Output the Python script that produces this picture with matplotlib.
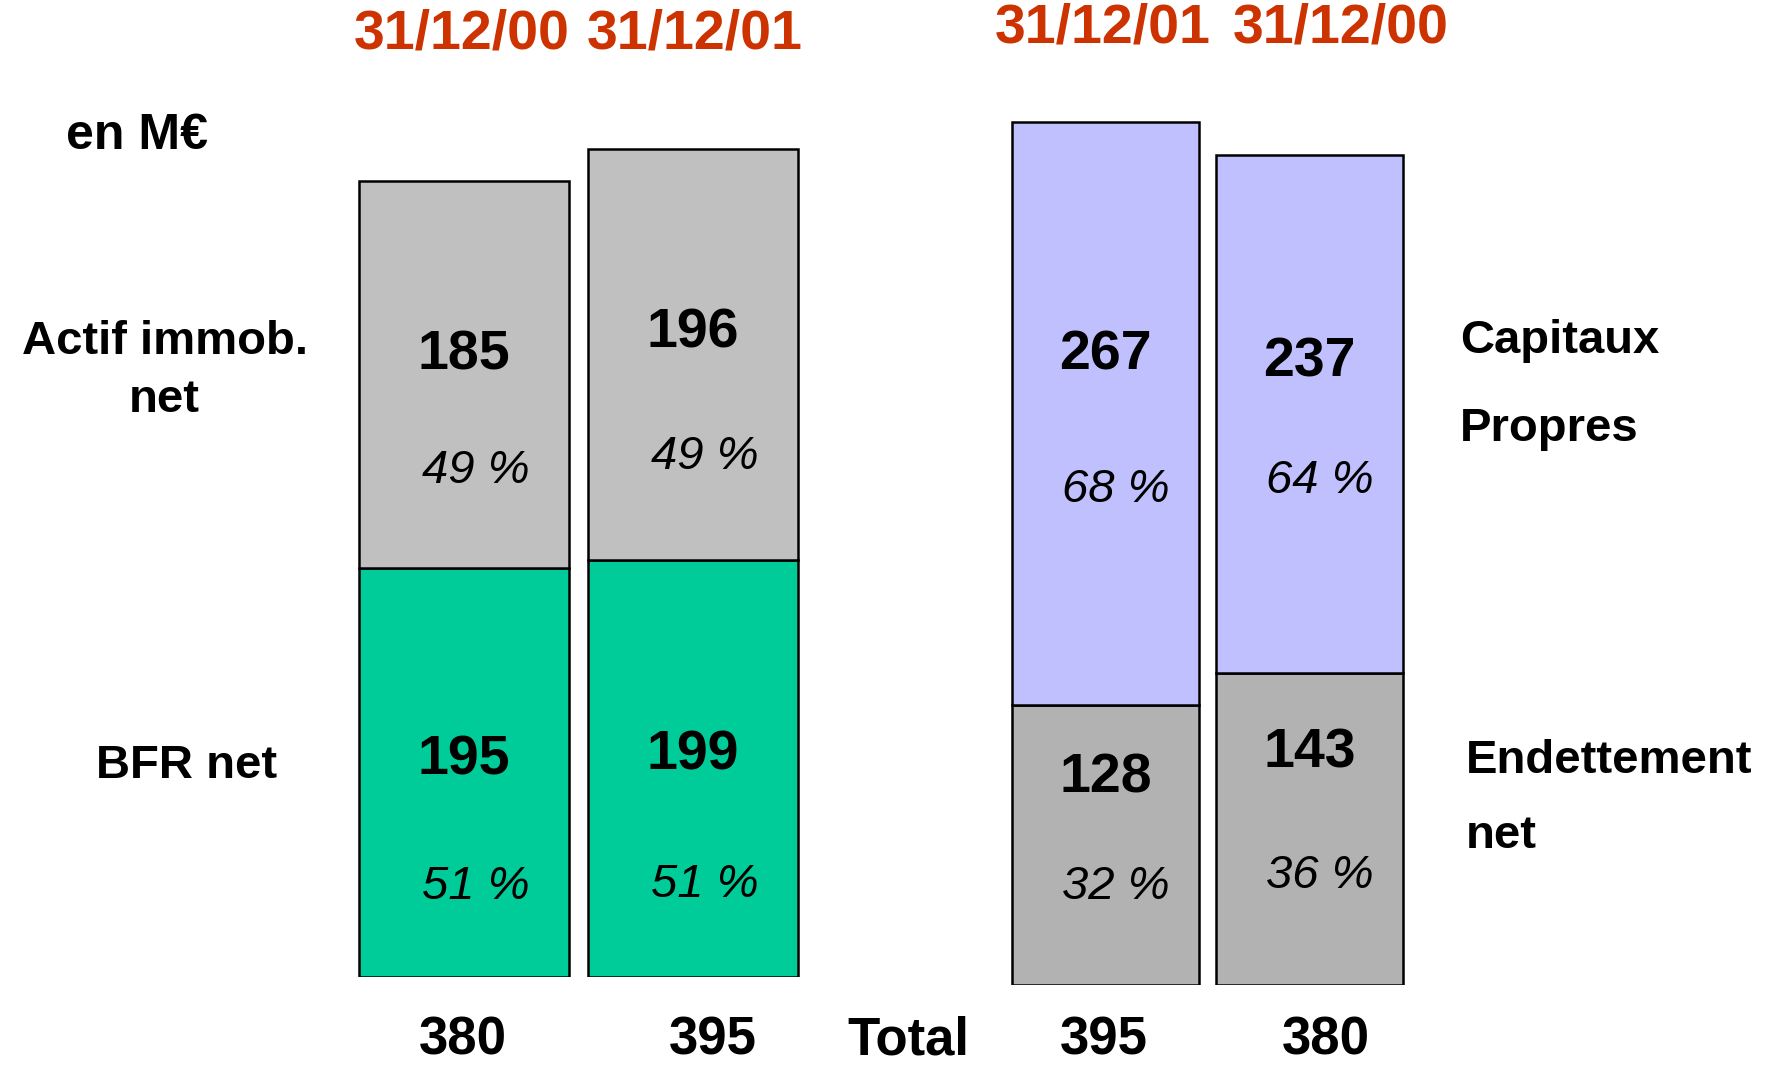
import matplotlib
matplotlib.use("Agg")
import matplotlib.pyplot as plt

plt.rcParams['font.family'] = ['Liberation Sans', 'DejaVu Sans']

# actif side (left)
actif_dates = ["31/12/00", "31/12/01"]
bfr_net = [195, 199]
actif_immob = [185, 196]
actif_bfr_pct = [51, 51]
actif_immob_pct = [49, 49]
actif_totals = [380, 395]

# passif side (right)
passif_dates = ["31/12/01", "31/12/00"]
endettement = [128, 143]
capitaux = [267, 237]
endet_pct = [32, 36]
capitaux_pct = [68, 64]
passif_totals = [395, 380]

RED = "#CC3300"
W, H = 1769, 1066

fig = plt.figure(figsize=(W / 100, H / 100), dpi=100)


def stacked_pair(ax_rect, ymax, bottom_vals, top_vals, bottom_pct, top_pct,
                 c_bottom, c_top, width, frac_bot, frac_top):
    # frac_*: (value label, percent label) position as share of segment height
    ax = fig.add_axes(ax_rect)
    x = range(len(bottom_vals))
    ax.bar(x, bottom_vals, width=width, color=c_bottom, edgecolor="black", linewidth=1.8)
    ax.bar(x, top_vals, width=width, bottom=bottom_vals, color=c_top,
           edgecolor="black", linewidth=1.8)
    for i in x:
        b, t = bottom_vals[i], top_vals[i]
        ax.text(i, b * frac_bot[0], str(b), ha="center", va="center",
                fontsize=40, fontweight="bold")
        ax.text(i + 0.05, b * frac_bot[1], f"{bottom_pct[i]} %", ha="center",
                va="center", fontsize=34, style="italic")
        ax.text(i, b + t * frac_top[0], str(t), ha="center", va="center",
                fontsize=40, fontweight="bold")
        ax.text(i + 0.05, b + t * frac_top[1], f"{top_pct[i]} %", ha="center",
                va="center", fontsize=34, style="italic")
    ax.set_xlim(-0.5, len(bottom_vals) - 0.5)
    ax.set_ylim(0, ymax)
    ax.axis("off")
    return ax


# left pair: bottom at 977 px, ~2.096 px per unit
stacked_pair([349.5 / W, (H - 977) / H, 458 / W, 977 / H], 977 / 2.096,
             bfr_net, actif_immob, actif_bfr_pct, actif_immob_pct,
             "#00CC99", "#C0C0C0", 0.913, (0.53, 0.22), (0.55, 0.25))

# right pair: bottom at 985 px, ~2.184 px per unit
stacked_pair([1003.5 / W, (H - 985) / H, 408 / W, 985 / H], 985 / 2.184,
             endettement, capitaux, endet_pct, capitaux_pct,
             "#B2B2B2", "#C0C0FF", 0.917, (0.74, 0.35), (0.6, 0.37))


def t(x, y, s, **kw):
    # x, y in 1568x945 preview coordinates
    fig.text(x / 1568, 1 - y / 945, s, va="center", **kw)


# date headers
for xc, d in zip([409, 616], actif_dates):
    t(xc, 31, d, ha="center", fontsize=40, fontweight="bold", color=RED)
for xc, d in zip([977, 1188], passif_dates):
    t(xc, 25, d, ha="center", fontsize=40, fontweight="bold", color=RED)

# side labels
t(121, 121, "en M€", ha="center", fontsize=36, fontweight="bold")
t(146, 303, "Actif immob.", ha="center", fontsize=34, fontweight="bold")
t(146, 355, "net", ha="center", fontsize=34, fontweight="bold")
t(165, 679, "BFR net", ha="center", fontsize=34, fontweight="bold")
t(1294, 302, "Capitaux", ha="left", fontsize=34, fontweight="bold")
t(1294, 380, "Propres", ha="left", fontsize=34, fontweight="bold")
t(1299, 675, "Endettement", ha="left", fontsize=34, fontweight="bold")
t(1299, 741, "net", ha="left", fontsize=34, fontweight="bold")

# totals row
for xc, v in zip([410, 632], actif_totals):
    t(xc, 922, str(v), ha="center", fontsize=38, fontweight="bold")
t(805, 922, "Total", ha="center", fontsize=38, fontweight="bold")
for xc, v in zip([978, 1175], passif_totals):
    t(xc, 922, str(v), ha="center", fontsize=38, fontweight="bold")

fig.savefig("out.png", dpi=100, facecolor="white")
